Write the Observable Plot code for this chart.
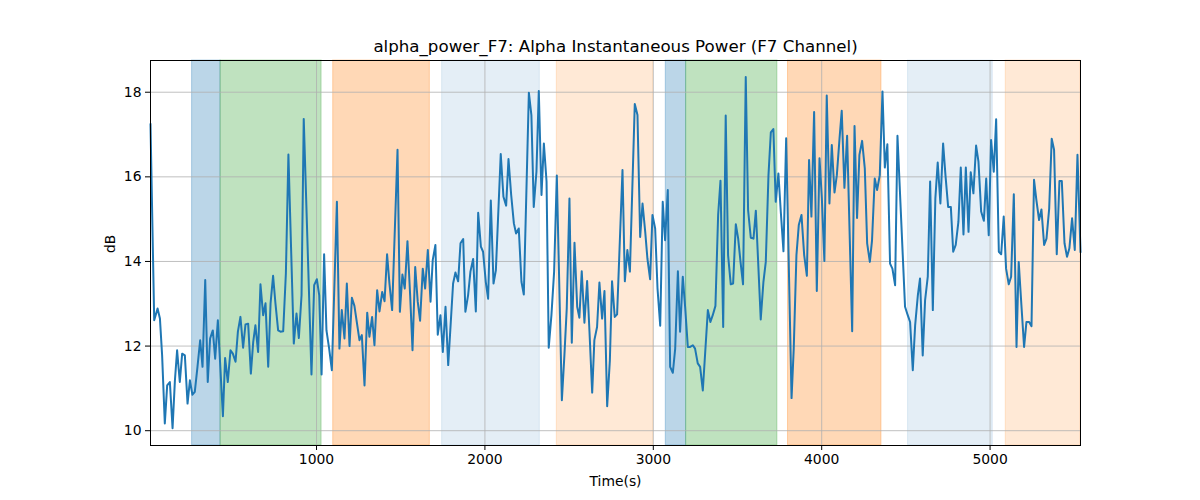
<!DOCTYPE html>
<html>
<head>
<meta charset="utf-8">
<script src="https://cdn.jsdelivr.net/npm/d3@7"></script>
<script src="https://cdn.jsdelivr.net/npm/@observablehq/plot@0.6"></script>
<style>
  html, body { margin: 0; padding: 0; background: white; }
</style>
</head>
<body>
<div id="chart"></div>
<script>
const titleText = "alpha_power_F7: Alpha Instantaneous Power (F7 Channel)";
const xLabel = "Time(s)";
const yLabel = "dB";

const times = [
  14, 36, 56, 70, 83, 99, 113, 129, 145, 159, 172, 188, 202, 218, 234, 248, 263, 277, 293, 309,
  323, 339, 354, 368, 384, 398, 414, 444, 457, 473, 489, 503, 519, 533, 548, 564, 578, 594, 610, 624,
  637, 653, 667, 683, 697, 713, 727, 742, 756, 772, 786, 802, 818, 833, 865, 881, 895, 911, 924, 970,
  986, 1002, 1016, 1030, 1045, 1059, 1075, 1091, 1121, 1136, 1150, 1166, 1180, 1196, 1210, 1225, 1239, 1255, 1269, 1285,
  1301, 1314, 1330, 1344, 1360, 1374, 1390, 1404, 1419, 1433, 1449, 1481, 1495, 1510, 1524, 1540, 1556, 1570, 1586, 1601,
  1615, 1631, 1645, 1661, 1677, 1690, 1706, 1720, 1736, 1750, 1766, 1782, 1811, 1825, 1841, 1855, 1871, 1884, 1900, 1914,
  1930, 1946, 1960, 1976, 1989, 2005, 2019, 2035, 2051, 2065, 2094, 2110, 2126, 2140, 2156, 2172, 2185, 2201, 2217, 2231,
  2261, 2276, 2290, 2306, 2320, 2336, 2350, 2366, 2379, 2395, 2411, 2427, 2457, 2472, 2486, 2502, 2516, 2532, 2548, 2561,
  2575, 2591, 2607, 2621, 2637, 2650, 2666, 2680, 2696, 2710, 2726, 2742, 2755, 2771, 2785, 2817, 2831, 2846, 2861, 2890,
  2906, 2922, 2936, 2952, 2965, 2981, 2995, 3011, 3025, 3041, 3056, 3070, 3086, 3100, 3116, 3130, 3146, 3159, 3175, 3189,
  3205, 3219, 3235, 3248, 3264, 3278, 3294, 3324, 3339, 3353, 3369, 3385, 3399, 3415, 3430, 3444, 3460, 3474, 3490, 3504,
  3518, 3533, 3549, 3563, 3579, 3595, 3609, 3638, 3654, 3668, 3684, 3698, 3713, 3727, 3743, 3757, 3773, 3789, 3821, 3834,
  3850, 3864, 3880, 3896, 3912, 3925, 3939, 3955, 3971, 3987, 4001, 4016, 4030, 4046, 4060, 4076, 4090, 4106, 4119, 4135,
  4151, 4181, 4195, 4210, 4224, 4240, 4256, 4270, 4286, 4299, 4315, 4329, 4345, 4361, 4375, 4390, 4406, 4420, 4436, 4450,
  4495, 4511, 4525, 4541, 4555, 4571, 4584, 4600, 4614, 4630, 4644, 4660, 4675, 4689, 4705, 4721, 4735, 4751, 4767, 4781,
  4796, 4812, 4826, 4842, 4856, 4872, 4885, 4901, 4917, 4931, 4947, 4963, 4977, 4992, 5006, 5022, 5036, 5052, 5066, 5081,
  5095, 5111, 5125, 5141, 5157, 5170, 5186, 5202, 5216, 5232, 5246, 5261, 5275, 5291, 5305, 5321, 5335, 5351, 5366, 5380,
  5396, 5412, 5426, 5442, 5457, 5471, 5487, 5503, 5519, 5537
];

const values = [
  17.24, 12.61, 12.89, 12.65, 11.78, 10.17, 11.07, 11.15, 10.06, 11.19, 11.90, 11.15, 11.82, 11.78, 10.64, 11.19, 10.85, 10.92, 11.51, 12.14,
  11.51, 13.56, 11.15, 12.18, 12.37, 11.70, 12.61, 10.34, 11.72, 11.15, 11.90, 11.82, 11.63, 12.34, 12.69, 11.96, 12.51, 12.53, 11.35, 12.10,
  12.49, 11.86, 13.46, 12.73, 13.01, 11.51, 13.01, 13.66, 13.01, 12.37, 12.34, 12.35, 13.72, 16.53, 12.06, 12.77, 12.19, 13.20, 17.37, 11.33,
  13.44, 13.58, 13.20, 11.33, 14.17, 12.37, 11.94, 11.43, 15.41, 11.94, 12.85, 12.18, 13.48, 12.00, 13.14, 12.95, 12.57, 12.14, 12.26, 11.07,
  12.79, 12.22, 12.69, 12.02, 13.32, 12.82, 13.28, 13.06, 14.17, 13.48, 12.85, 16.64, 12.81, 13.69, 13.36, 14.48, 13.20, 11.90, 13.87, 13.05,
  12.60, 13.83, 13.36, 14.27, 13.05, 14.03, 14.39, 12.27, 12.73, 11.86, 12.93, 11.55, 13.48, 13.74, 13.53, 14.43, 14.53, 12.81, 13.20, 13.76,
  14.06, 12.82, 15.15, 14.35, 14.23, 13.52, 13.12, 15.44, 13.48, 13.79, 16.54, 15.53, 15.32, 16.42, 15.57, 14.90, 14.66, 14.78, 13.52, 13.22,
  17.99, 17.46, 15.29, 16.12, 18.03, 15.57, 16.79, 15.89, 11.96, 12.73, 13.76, 16.03, 10.72, 11.78, 12.89, 15.49, 12.08, 14.44, 12.93, 12.67,
  13.77, 12.55, 13.54, 12.34, 10.90, 12.14, 12.45, 13.50, 12.65, 13.30, 10.58, 11.66, 13.53, 12.69, 12.75, 16.16, 13.53, 14.27, 13.76, 17.72,
  17.46, 14.58, 15.37, 14.70, 14.07, 13.58, 15.10, 14.78, 13.36, 12.48, 15.41, 14.50, 15.69, 11.51, 11.37, 11.94, 13.77, 12.34, 13.64, 12.93,
  11.98, 11.98, 12.02, 11.94, 11.59, 11.51, 10.95, 12.85, 12.57, 12.73, 12.95, 15.10, 15.91, 12.45, 17.45, 14.15, 13.46, 13.48, 14.88, 14.54,
  13.99, 13.46, 18.36, 15.21, 14.56, 14.54, 15.20, 12.63, 13.52, 13.99, 16.04, 17.05, 17.13, 15.41, 16.08, 15.18, 14.24, 16.91, 10.77, 11.94,
  14.15, 14.86, 15.10, 14.15, 13.66, 16.40, 15.06, 17.53, 13.30, 16.44, 15.49, 14.01, 17.92, 15.37, 16.75, 15.63, 16.04, 16.91, 17.56, 15.74,
  16.97, 12.35, 17.20, 15.03, 16.52, 16.85, 16.20, 14.43, 13.99, 14.50, 15.96, 15.69, 16.04, 18.02, 16.22, 16.77, 13.95, 13.83, 13.44, 16.97,
  12.93, 12.73, 12.57, 11.43, 12.49, 13.20, 13.60, 11.78, 13.08, 13.64, 15.89, 12.85, 15.49, 16.34, 15.37, 16.79, 16.04, 15.29, 15.29, 14.23,
  14.39, 14.94, 16.22, 14.64, 16.22, 14.70, 16.11, 15.61, 16.74, 16.36, 15.18, 14.96, 15.96, 14.62, 16.87, 16.12, 17.36, 14.23, 14.17, 15.06,
  13.83, 13.46, 13.64, 15.59, 11.98, 13.99, 12.97, 11.98, 12.57, 12.57, 12.47, 15.93, 15.45, 14.98, 15.23, 14.39, 14.54, 15.25, 16.90, 16.64,
  14.17, 15.90, 15.90, 14.43, 14.11, 14.31, 15.02, 14.27, 16.52, 14.23
];

const spanStart   = [261, 430, 1099, 1746, 2427, 3074, 3195, 3800, 4513, 5093];
const spanEnd     = [430, 1030, 1673, 2326, 2999, 3195, 3737, 4355, 5016, 5600];
const spanColor   = ["#1f77b4", "#2ca02c", "#ff7f0e", "#1f77b4", "#ff7f0e", "#1f77b4", "#2ca02c", "#ff7f0e", "#1f77b4", "#ff7f0e"];
const spanOpacity = [0.3, 0.3, 0.3, 0.12, 0.17, 0.3, 0.3, 0.3, 0.12, 0.17];

const xTicks = [1000, 2000, 3000, 4000, 5000];
const yTicks = [10, 12, 14, 16, 18];
const xDomain = [14, 5537];
const yDomain = [9.65, 18.75];

const series = times.map((t, i) => ({t, v: values[i]}));
const spans = spanStart.map((s, i) => ({s, e: Math.min(spanEnd[i], xDomain[1]), c: spanColor[i], o: spanOpacity[i]}));

const chart = Plot.plot({
  width: 1200,
  height: 500,
  marginLeft: 150,
  marginRight: 120,
  marginTop: 60,
  marginBottom: 55,
  style: {fontFamily: "DejaVu Sans", fontSize: "13.9px", color: "black", background: "white", overflow: "visible"},
  x: {domain: xDomain},
  y: {domain: yDomain},
  marks: [
    Plot.rect(spans, {x1: "s", x2: "e", fill: "c", fillOpacity: "o", stroke: "c", strokeOpacity: "o", strokeWidth: 1}),
    Plot.ruleX(xTicks, {stroke: "#b0b0b0", strokeWidth: 0.8}),
    Plot.ruleY(yTicks, {stroke: "#b0b0b0", strokeWidth: 0.8}),
    Plot.line(series, {x: "t", y: "v", stroke: "#1f77b4", strokeWidth: 2, strokeLinejoin: "round", strokeLinecap: "square"}),
    Plot.frame({stroke: "black", strokeWidth: 1}),
    Plot.axisX(xTicks, {tickSize: 5, tickPadding: 4, label: null, fontSize: 13.9, tickFormat: d => String(d)}),
    Plot.axisY(yTicks, {tickSize: 5, tickPadding: 4, label: null, fontSize: 13.9, tickFormat: d => String(d)}),
    Plot.text([titleText], {frameAnchor: "top", dy: -14, fontSize: 16.67, lineAnchor: "middle", fill: "black"}),
    Plot.text([xLabel], {frameAnchor: "bottom", dy: 36, fontSize: 13.9, lineAnchor: "middle", fill: "black"}),
    Plot.text([yLabel], {frameAnchor: "left", dx: -40, rotate: -90, fontSize: 13.9, lineAnchor: "middle", fill: "black"})
  ]
});
document.getElementById("chart").appendChild(chart);
</script>
</body>
</html>
